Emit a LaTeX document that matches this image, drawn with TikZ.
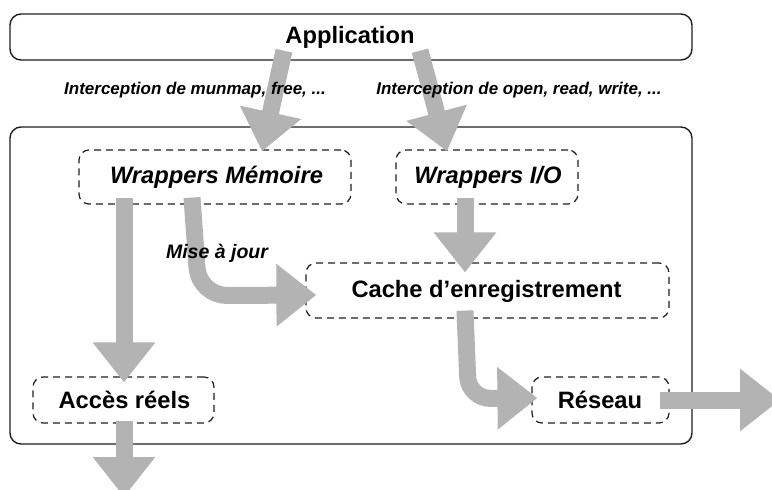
\documentclass[tikz,border=0pt]{standalone}
\usepackage{fontspec}
\setmainfont{Liberation Sans}
\usetikzlibrary{arrows.meta,calc}
\definecolor{arrgray}{RGB}{179,179,179}
\definecolor{edge}{RGB}{30,30,30}
\begin{document}
\begin{tikzpicture}[x=1pt,y=-1pt,
  solidbox/.style={draw=edge, line width=1.4pt, rounded corners=11pt, inner sep=0pt},
  dbox/.style={draw=edge, line width=1.2pt, dash pattern=on 7pt off 5pt, rounded corners=10pt, inner sep=0pt},
  fat/.style={draw=arrgray, line width=17pt, -{Triangle[width=60pt,length=40pt]}},
  bigtxt/.style={font=\fontsize{23.7}{28}\selectfont\bfseries, inner sep=0pt},
  bigit/.style={font=\fontsize{23.7}{28}\selectfont\bfseries\itshape, inner sep=0pt},
  smallit/.style={font=\fontsize{17}{20}\selectfont\bfseries\itshape, inner sep=0pt},
  midit/.style={font=\fontsize{19.5}{23}\selectfont\bfseries\itshape, inner sep=0pt}
]
\useasboundingbox (0,0) rectangle (772,490);

% boxes
\node[solidbox, minimum width=682pt, minimum height=46pt] (app) at (351,37) {};
\node[solidbox, minimum width=682pt, minimum height=317pt] (main) at (351,285.5) {};
\node[dbox, minimum width=272pt, minimum height=54pt] (wm) at (215,177) {};
\node[dbox, minimum width=182pt, minimum height=54pt] (wio) at (487,177) {};
\node[dbox, minimum width=363pt, minimum height=55pt] (cache) at (487.5,290.5) {};
\node[dbox, minimum width=181pt, minimum height=46pt] (acces) at (123.5,400) {};
\node[dbox, minimum width=137pt, minimum height=46pt] (reseau) at (600.5,400) {};

\coordinate (netout) at (780,400);
\coordinate (down) at (124,497);

% arrows
\draw[fat] ($(app.south)+(-67,-10)$) -- ($(wm.north)+(47,2)$);
\draw[fat] ($(app.south)+(69,-10)$) -- ($(wio.north)+(-40,2)$);
\draw[fat] ($(wm.south)+(-91,-7)$) -- ($(acces.north)+(0.5,6)$);
\draw[fat, rounded corners=28pt] ($(wm.south)+(-23,-7)$) -- ($(wm.south)+(-16,91)$) -- ($(cache.west)+(11,4.5)$);
\draw[fat] ($(wio.south)+(-22,-7)$) -- ($(cache.north)+(-22.5,10)$);
\draw[fat, rounded corners=22pt] ($(cache.south)+(-22.5,-8)$) -- ($(cache.south)+(-19,80)$) -- ($(reseau.west)+(6,-2)$);
\draw[fat] ($(reseau.east)+(-10,0)$) -- (netout);
\draw[fat] ($(acces.south)+(0.5,-3)$) -- (down);

% texts
\node[bigtxt] (apptxt) at (350,37) {Application};
\node[smallit] (lbl1) at (195,90) {Interception de munmap, free, ...};
\node[smallit] (lbl2) at (519,90) {Interception de open, read, write, ...};
\node[bigit] (wmtxt) at (216.5,177) {Wrappers Mémoire};
\node[bigit] (wiotxt) at (488,177) {Wrappers I/O};
\node[midit] (maj) at (217,253) {Mise à jour};
\node[bigtxt] (cachetxt) at (486.5,291) {Cache d’enregistrement};
\node[bigtxt] (accestxt) at (124.5,400) {Accès réels};
\node[bigtxt] (reseautxt) at (600,400) {Réseau};
\end{tikzpicture}
\end{document}
